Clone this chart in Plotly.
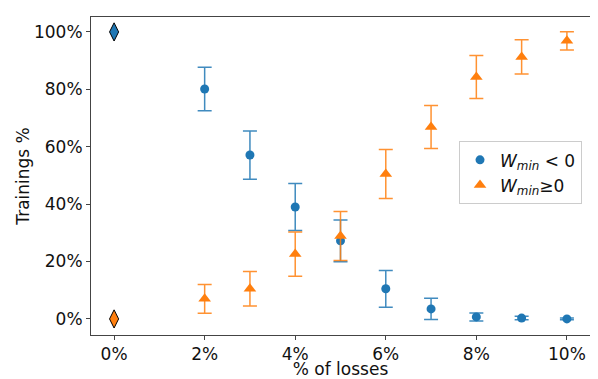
import plotly.graph_objects as go

# % of losses
losses = [2, 3, 4, 5, 6, 7, 8, 9, 10]

# W_min < 0 (blue)
neg_mean = [80.1, 57.1, 39.0, 27.2, 10.5, 3.5, 0.7, 0.3, 0.0]
neg_err = [7.6, 8.4, 8.2, 7.3, 6.4, 3.7, 1.4, 0.6, 0.3]

# W_min >= 0 (orange)
pos_mean = [7.0, 10.5, 22.6, 28.9, 50.5, 66.9, 84.3, 91.3, 96.9]
pos_err = [5.0, 6.0, 7.7, 8.5, 8.5, 7.5, 7.5, 6.0, 3.2]

# value at 0% losses
zero_x = [0]
zero_neg = [100]
zero_pos = [0]

x_ticks = [0, 2, 4, 6, 8, 10]
y_ticks = [0, 20, 40, 60, 80, 100]

blue = "#1f77b4"
orange = "#ff7f0e"

fig = go.Figure()

fig.add_trace(go.Scatter(
    x=losses, y=neg_mean, mode="markers",
    name="<i>W</i><sub><i>min</i></sub> < 0",
    marker=dict(color=blue, size=9, symbol="circle"),
    error_y=dict(type="data", array=neg_err, color="rgba(31,119,180,0.85)",
                 thickness=1.5, width=7),
))
fig.add_trace(go.Scatter(
    x=losses, y=pos_mean, mode="markers",
    name="<i>W</i><sub><i>min</i></sub>≥0",
    marker=dict(color=orange, size=11, symbol="triangle-up"),
    error_y=dict(type="data", array=pos_err, color="rgba(255,127,14,0.85)",
                 thickness=1.5, width=7),
))

# diamonds at 0%
fig.add_trace(go.Scatter(
    x=zero_x, y=zero_neg, mode="markers", showlegend=False,
    marker=dict(color=blue, size=13, symbol="diamond-tall",
                line=dict(color="black", width=1)),
))
fig.add_trace(go.Scatter(
    x=zero_x, y=zero_pos, mode="markers", showlegend=False,
    marker=dict(color=orange, size=13, symbol="diamond-tall",
                line=dict(color="black", width=1)),
))

axis_common = dict(
    showline=True, linecolor="#444", linewidth=1, mirror=True,
    ticks="outside", ticklen=4, tickcolor="#444",
    showgrid=False, zeroline=False, automargin=False,
)

# the page body has an 8px margin, so the figure is sized to fit inside it
fig.update_layout(
    width=590, height=371,
    margin=dict(l=83, r=8, t=9, b=44),
    plot_bgcolor="white", paper_bgcolor="white",
    font=dict(family="DejaVu Sans", size=17, color="#111"),
    xaxis=dict(range=[-0.51, 10.51], tickmode="array", tickvals=x_ticks,
               ticktext=[f"{v}%" for v in x_ticks],
               title=dict(text="% of losses", standoff=4, font=dict(size=17)),
               **axis_common),
    yaxis=dict(range=[-5.6, 105.2], tickmode="array", tickvals=y_ticks,
               ticktext=[f"{v}%" for v in y_ticks],
               title=dict(text="Trainings %", standoff=0, font=dict(size=17)),
               **axis_common),
    legend=dict(x=0.984, y=0.51, xanchor="right", yanchor="middle",
                bordercolor="#ccc", borderwidth=1, bgcolor="white",
                font=dict(size=17)),
)

fig.write_html("out.html")
